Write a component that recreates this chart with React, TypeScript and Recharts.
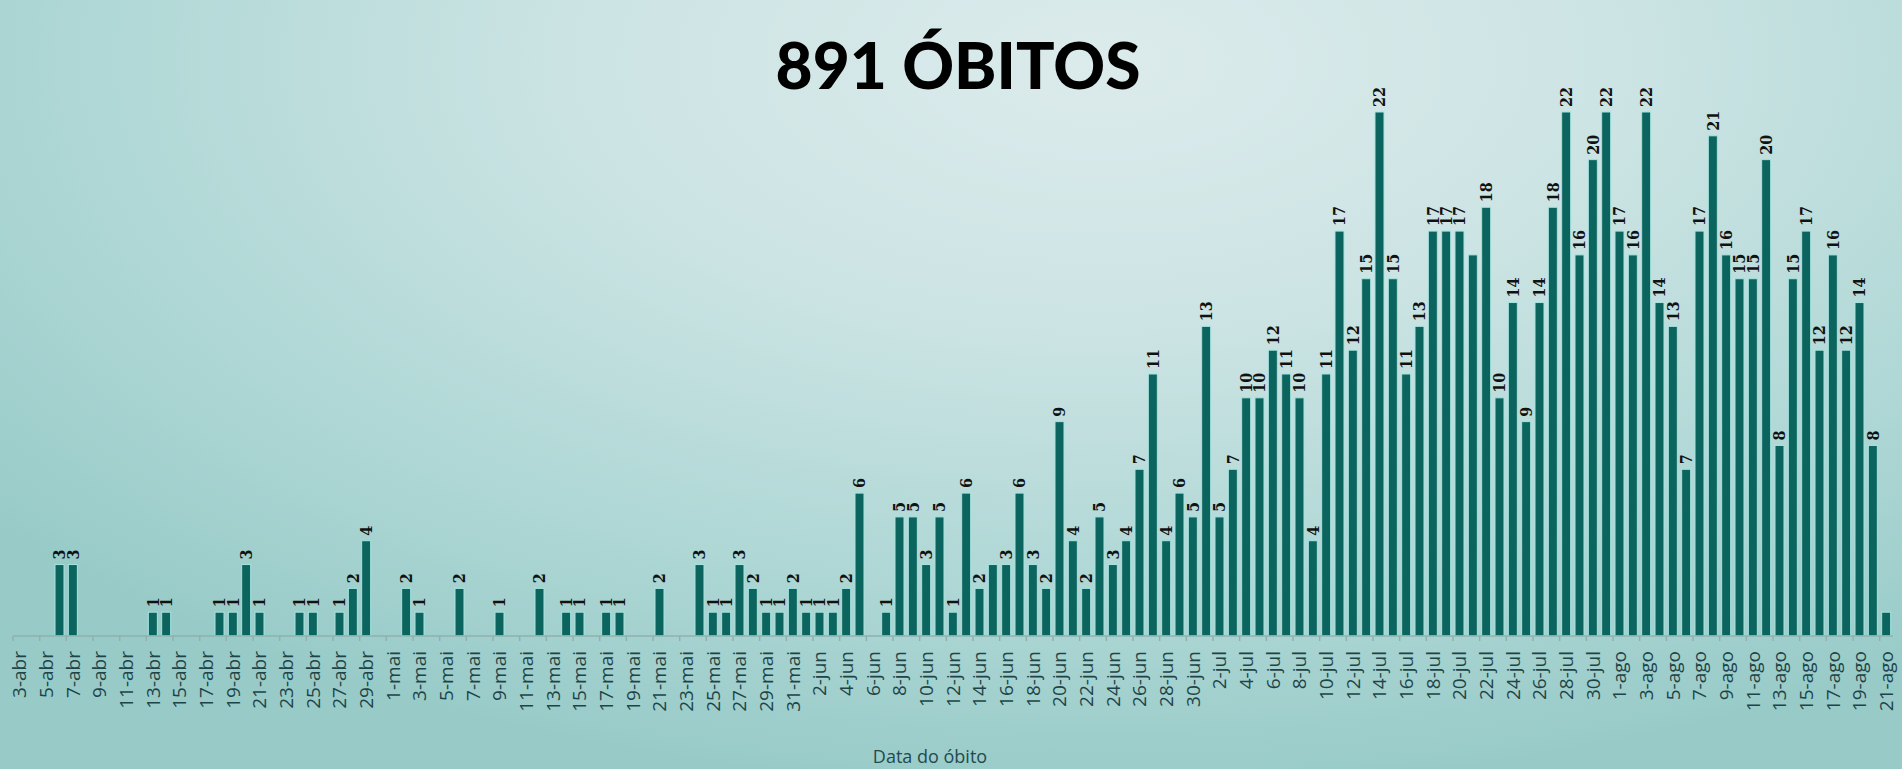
import React from 'react'
import { BarChart, Bar, XAxis, YAxis } from 'recharts'

// deaths per day, by month
const months = ['abr', 'mai', 'jun', 'jul', 'ago']
const firstDays = [3, 1, 1, 1, 1]

const abr = [0, 0, 0, 3, 3, 0, 0, 0, 0, 0, 1, 1, 0, 0, 0, 1, 1, 3, 1, 0, 0, 1, 1, 0, 1, 2, 4, 0]
const mai = [0, 2, 1, 0, 0, 2, 0, 0, 1, 0, 0, 2, 0, 1, 1, 0, 1, 1, 0, 0, 2, 0, 0, 3, 1, 1, 3, 2, 1, 1, 2]
const jun = [1, 1, 1, 2, 6, 0, 1, 5, 5, 3, 5, 1, 6, 2, 3, 3, 6, 3, 2, 9, 4, 2, 5, 3, 4, 7, 11, 4, 6, 5]
const jul = [13, 5, 7, 10, 10, 12, 11, 10, 4, 11, 17, 12, 15, 22, 15, 11, 13, 17, 17, 17, 16, 18, 10, 14, 9, 14, 18, 22, 16, 20, 22]
const ago = [17, 16, 22, 14, 13, 7, 17, 21, 16, 15, 15, 20, 8, 15, 17, 12, 16, 12, 14, 8, 1]

const monthValues = [abr, mai, jun, jul, ago]

// labels the original leaves out (overlapping)
const hiddenLabels = ['15-jun', '21-jul', '21-ago']

const data = months.flatMap((m, i) =>
  monthValues[i].map((v, j) => ({ date: `${firstDays[i] + j}-${m}`, obitos: v }))
)

const W = 1902
const H = 769
const PLOT_LEFT = 13
const PLOT_RIGHT = 1893
const CAT_W = (PLOT_RIGHT - PLOT_LEFT) / data.length

const DateTick = (props: any) => {
  const { x, y, payload } = props
  const lx = x - CAT_W / 2
  const ty = y + 9
  return (
    <g>
      <line x1={lx} x2={lx} y1={y - 6} y2={y - 1} stroke='#8fb0ae' strokeWidth={1.5} />
      <text
        x={x}
        y={ty}
        transform={`rotate(-90 ${x} ${ty})`}
        textAnchor='end'
        dy='0.35em'
        fill='#1f4448'
        fontSize={19}
        fontFamily='"Open Sans", sans-serif'
      >
        {payload.value}
      </text>
    </g>
  )
}

// bar rect plus its value written above it
const BarWithLabel = (props: any) => {
  const { x, y, width, height, payload, fill } = props
  if (!payload || !payload.obitos) return null
  const cx = x + width / 2
  const cy = y - 5
  const showLabel = !hiddenLabels.includes(payload.date)
  return (
    <g>
      <rect x={x} y={y} width={width} height={height} fill={fill} stroke='#a6e4e1' strokeWidth={1} />
      {showLabel && (
        <text
          x={cx}
          y={cy}
          transform={`rotate(-90 ${cx} ${cy})`}
          textAnchor='start'
          dy='0.36em'
          fill='#111'
          fontSize={16}
          fontWeight='bold'
          fontFamily='"DejaVu Serif Condensed", "DejaVu Serif", serif'
        >
          {payload.obitos}
        </text>
      )}
    </g>
  )
}

const App = () => {
  return (
    <div
      style={{
        position: 'absolute',
        top: 0,
        left: 0,
        width: W,
        height: H,
        overflow: 'hidden',
        background:
          'radial-gradient(ellipse 75% 95% at 58% 8%, #dcebec 0%, #cde4e4 35%, #b0d8d6 70%, #98cbc8 100%)'
      }}
    >
      <div
        style={{
          position: 'absolute',
          top: 26,
          left: 0,
          width: 1916,
          textAlign: 'center',
          fontFamily: 'Lato, sans-serif',
          fontWeight: 900,
          fontSize: 64,
          letterSpacing: 0,
          color: '#000'
        }}
      >
        891 ÓBITOS
      </div>
      <BarChart
        width={W}
        height={H}
        data={data}
        margin={{ top: 112, right: W - PLOT_RIGHT, bottom: 53, left: PLOT_LEFT }}
        barCategoryGap={2}
      >
        <XAxis
          dataKey='date'
          interval={1}
          height={80}
          tickSize={6}
          tickMargin={0}
          tickLine={false}
          axisLine={{ stroke: '#8fb0ae', strokeWidth: 1.5 }}
          tick={<DateTick />}
        />
        <YAxis hide domain={[0, 22]} />
        <Bar
          dataKey='obitos'
          fill='#0b655e'
          shape={<BarWithLabel />}
          isAnimationActive={false}
        />
      </BarChart>
      <div
        style={{
          position: 'absolute',
          top: 745,
          left: 830,
          width: 200,
          textAlign: 'center',
          fontFamily: '"Open Sans", sans-serif',
          fontSize: 18,
          lineHeight: '22px',
          color: '#244a4e'
        }}
      >
        Data do óbito
      </div>
    </div>
  )
}

export default App
